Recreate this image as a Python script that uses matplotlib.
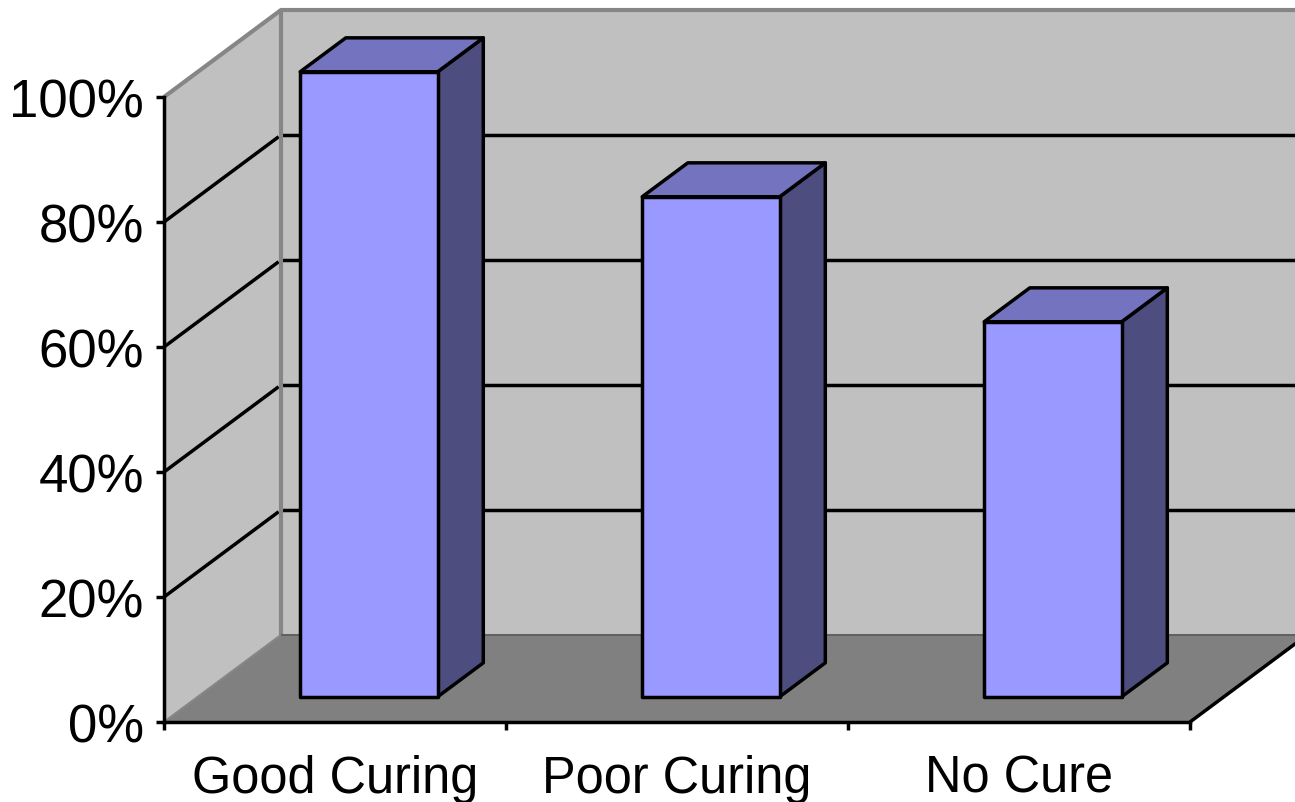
import matplotlib
matplotlib.use('Agg')
import matplotlib.pyplot as plt
from matplotlib.patches import Polygon

categories = ['Good Curing', 'Poor Curing', 'No Cure']
values = [100, 80, 60]
y_ticks = [0, 20, 40, 60, 80, 100]
y_tick_labels = ['0%', '20%', '40%', '60%', '80%', '100%']

W, H = 1295, 803
# how far one full unit of depth moves a point, in data units
DEPTH_X = 117 / (1026 / 3)
DEPTH_Y = 87 / 6.25
BAR_WIDTH = 0.402
BAR_FRONT = 0.29
BAR_BACK = 0.68

WALL = '#c0c0c0'
FLOOR = '#808080'
EDGE_GRAY = '#868686'
FRONT = '#9999ff'
TOP = '#7373bf'
SIDE = '#4d4d80'
LINE_W = 2.5

plt.rcParams['font.family'] = ['Liberation Sans', 'DejaVu Sans']


def project(x, y, d):
    return x + d * DEPTH_X, y + d * DEPTH_Y


def face(ax, corners, color, edge='none', lw=0, zorder=1):
    pts = [project(*c) for c in corners]
    ax.add_patch(Polygon(pts, closed=True, facecolor=color, edgecolor=edge,
                         linewidth=lw, joinstyle='round', zorder=zorder, clip_on=False))


def line3d(ax, corners, color, lw, zorder=2):
    pts = [project(*c) for c in corners]
    ax.plot([p[0] for p in pts], [p[1] for p in pts], color=color, lw=lw,
            solid_capstyle='butt', zorder=zorder, clip_on=False)


def draw_bar(ax, center, value):
    x0, x1 = center - BAR_WIDTH / 2, center + BAR_WIDTH / 2
    f, b = BAR_FRONT, BAR_BACK
    face(ax, [(x1, 0, f), (x1, 0, b), (x1, value, b), (x1, value, f)], SIDE, 'black', LINE_W, 5)
    face(ax, [(x0, value, f), (x1, value, f), (x1, value, b), (x0, value, b)], TOP, 'black', LINE_W, 5)
    face(ax, [(x0, 0, f), (x1, 0, f), (x1, value, f), (x0, value, f)], FRONT, 'black', LINE_W, 6)


fig = plt.figure(figsize=(W / 100, H / 100), dpi=100)
ax = fig.add_axes([164 / W, (H - 723) / H, 1026 / W, 625 / H])
ax.set_xlim(0, 3)
ax.set_ylim(0, 100)
ax.patch.set_visible(False)

n = len(categories)

# walls and floor
face(ax, [(0, 0, 1), (n, 0, 1), (n, 100, 1), (0, 100, 1)], WALL)
face(ax, [(0, 0, 0), (0, 0, 1), (0, 100, 1), (0, 100, 0)], WALL)
face(ax, [(0, 0, 0), (n, 0, 0), (n, 0, 1), (0, 0, 1)], FLOOR)

# gridlines run along the side wall and then the back wall
for v in y_ticks[1:-1]:
    line3d(ax, [(0, v, 0), (0, v, 0.98)], 'black', LINE_W)
    line3d(ax, [(0, v, 1), (n, v, 1)], 'black', LINE_W)

# gray wall outlines
line3d(ax, [(0, 100, 0), (0, 100, 1), (n, 100, 1)], EDGE_GRAY, 3, 3)
line3d(ax, [(0, 0, 1), (0, 100, 1)], EDGE_GRAY, 3, 3)
line3d(ax, [(0, 0, 0), (0, 0, 1)], EDGE_GRAY, 1.6, 3)
line3d(ax, [(0, 0, 1), (n, 0, 1)], '#606060', 1.4, 3)
line3d(ax, [(n, 0, 0), (n, 0, 1)], 'black', LINE_W, 3)

for i, v in enumerate(values):
    draw_bar(ax, i + 0.5, v)

for side in ('top', 'right'):
    ax.spines[side].set_visible(False)
for side in ('left', 'bottom'):
    ax.spines[side].set_linewidth(LINE_W)
    ax.spines[side].set_zorder(8)

ax.set_yticks(y_ticks)
ax.set_yticklabels(y_tick_labels, fontsize=38)
ax.tick_params(axis='y', length=6, width=LINE_W, pad=8.5)
ax.set_xticks(range(n + 1))
ax.set_xticklabels([])
ax.tick_params(axis='x', length=6, width=LINE_W)
ax.set_xticks([i + 0.5 for i in range(n)], minor=True)
ax.set_xticklabels(categories, minor=True, fontsize=36.4)
ax.tick_params(axis='x', which='minor', length=0, pad=23)

fig.savefig('out.png', dpi=100)
